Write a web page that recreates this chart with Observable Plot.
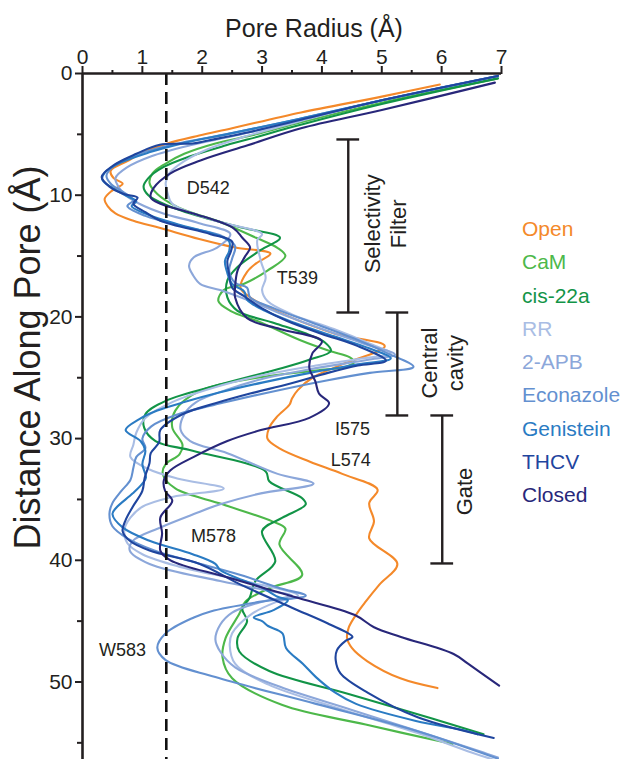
<!DOCTYPE html>
<html><head><meta charset="utf-8">
<script src="https://cdn.jsdelivr.net/npm/d3@7"></script>
<script src="https://cdn.jsdelivr.net/npm/@observablehq/plot@0.6"></script>
<style>
body{margin:0;background:#fff;}
#wrap{position:relative;width:632px;height:759px;font-family:"Liberation Sans",Arial,sans-serif;overflow:hidden;}
#legend{position:absolute;left:522px;top:212px;font-size:21px;line-height:33.3px;white-space:nowrap;}
</style></head><body>
<div id="wrap"><div id="chart"></div><div id="legend"></div></div>
<script>
// ---- data: [distance along pore (Å), pore radius (Å)] ----
const seriesNames = ["Open","CaM","cis-22a","RR","2-APB","Econazole","Genistein","THCV","Closed"];
const seriesColors = ["#F4892A","#4DB84A","#129447","#A9BDE4","#8CA7DA","#6390D0","#2A7BC3","#1F459E","#28277A"];

const openProfile = [[0.9,5.97],[1.9,5.0],[3.2,3.65],[4.5,2.5],[5.1,1.95],[5.75,1.42],[6.5,1.0],[7.2,0.75],[8.0,0.47],[8.6,0.52],[9.05,0.67],[9.6,0.5],[10.3,0.37],[10.9,0.42],[11.5,0.55],[12.1,0.85],[12.7,1.3],[13.6,1.95],[14.3,2.55],[14.8,3.14],[15.6,2.9],[16.3,2.75],[17.6,2.64],[18.4,2.8],[18.7,2.9],[20.0,3.46],[21.4,4.23],[22.4,5.05],[23.9,4.34],[25.0,3.84],[26.0,3.6],[26.7,3.5],[27.2,3.46],[28.2,3.25],[29.1,3.12],[30.0,3.09],[30.8,3.29],[31.9,3.8],[32.9,4.34],[34.2,4.93],[35.3,4.79],[36.8,4.87],[38.2,4.79],[40.3,5.26],[42.0,4.96],[43.4,4.73],[44.4,4.58],[45.5,4.45],[46.4,4.42],[47.2,4.5],[48.3,4.76],[49.7,5.31],[50.5,5.93]];

const camProfile = [[0.4,6.94],[2.4,5.0],[4.0,3.65],[5.0,2.9],[5.75,2.22],[6.6,1.7],[7.4,1.39],[8.2,1.17],[9.0,1.12],[9.9,1.25],[11.0,1.6],[12.3,2.35],[13.5,2.9],[14.3,3.25],[15.0,3.39],[16.2,3.09],[17.3,2.69],[17.8,2.36],[18.7,2.27],[19.5,2.47],[20.4,2.95],[21.9,3.63],[22.8,4.13],[23.3,4.46],[23.7,4.54],[24.1,4.4],[24.4,3.9],[25.1,2.79],[26.1,1.95],[27.7,1.55],[29.1,1.5],[30.5,1.67],[31.3,1.62],[32.1,1.39],[32.9,1.34],[34.1,1.55],[35.4,2.34],[36.8,3.17],[37.4,3.39],[38.7,3.29],[41.2,3.67],[42.3,3.12],[43.4,2.72],[44.4,2.62],[46.4,2.39],[48.0,2.34],[49.7,2.5],[51.9,3.34],[53.5,4.73],[55.1,6.18]];

const cis22aProfile = [[0.4,6.94],[2.5,5.0],[4.4,3.5],[5.1,3.0],[5.9,2.4],[6.8,1.8],[7.7,1.35],[8.6,1.1],[9.3,1.02],[10.0,1.1],[10.8,1.4],[11.8,2.0],[12.7,2.7],[13.5,3.3],[14.5,2.98],[15.9,2.59],[17.0,2.42],[18.4,2.42],[19.5,2.59],[20.5,3.2],[21.5,3.8],[22.1,4.05],[22.8,4.15],[23.5,3.8],[24.2,3.34],[25.5,2.34],[26.9,1.39],[28.0,1.05],[29.1,1.03],[30.2,1.22],[31.0,1.84],[32.7,3.06],[33.5,3.12],[34.9,3.67],[35.4,3.73],[36.5,3.34],[37.6,3.0],[40.1,3.22],[41.7,2.89],[43.1,2.79],[44.0,2.67],[45.0,2.75],[46.4,2.59],[47.5,2.62],[49.1,3.12],[51.0,4.46],[53.0,5.84],[54.3,6.7]];

const rrProfile = [[0.2,6.94],[2.2,5.0],[3.9,3.65],[5.2,2.7],[6.2,2.1],[7.2,1.7],[8.2,1.45],[9.0,1.39],[9.8,1.42],[10.7,1.5],[12.1,2.22],[13.2,3.0],[13.7,2.92],[15.4,2.98],[16.8,3.06],[17.8,3.0],[18.7,3.09],[19.8,3.5],[21.0,4.2],[22.2,4.8],[23.0,5.15],[23.4,4.7],[24.0,3.9],[24.8,3.0],[25.8,2.2],[27.0,1.5],[28.3,1.05],[29.5,0.9],[30.5,0.85],[31.5,0.8],[32.5,1.1],[33.3,1.6],[34.1,2.36],[34.8,1.5],[35.6,1.0],[36.5,0.8],[37.5,0.7],[38.6,0.75],[39.5,1.0],[40.5,1.6],[41.7,2.7],[42.9,3.6],[43.5,3.2],[44.5,2.8],[46.0,2.5],[47.0,2.46],[48.5,2.55],[50.2,3.1],[52.2,4.3],[54.2,5.6],[55.8,6.5],[56.5,6.94]];

const apbProfile = [[0.2,6.94],[2.2,5.0],[3.8,3.65],[5.1,2.55],[5.9,1.8],[6.8,1.15],[7.7,0.75],[8.6,0.55],[9.3,0.6],[10.0,0.72],[10.7,0.95],[11.5,1.35],[12.3,1.95],[13.2,2.47],[14.3,2.25],[15.1,1.86],[15.8,1.78],[16.6,1.85],[17.3,1.97],[17.8,2.3],[18.7,2.8],[19.8,3.35],[21.0,4.0],[22.2,4.7],[23.1,5.22],[23.5,4.8],[24.3,3.8],[25.1,3.0],[26.0,2.4],[27.0,1.9],[28.0,1.7],[29.3,1.64],[30.2,1.8],[31.2,2.42],[32.9,3.26],[33.7,3.86],[34.5,2.98],[35.4,2.3],[36.2,1.86],[37.3,1.3],[38.4,0.84],[39.2,0.79],[40.3,1.12],[41.7,2.3],[42.5,3.1],[42.9,3.5],[43.4,3.0],[44.3,2.5],[45.3,2.3],[46.5,2.22],[47.5,2.3],[48.8,2.55],[50.4,3.3],[52.3,4.5],[54.2,5.7],[55.8,6.7],[56.2,6.94]];

const econazoleProfile = [[0.2,6.94],[2.2,5.0],[3.7,3.65],[5.0,2.4],[5.8,1.55],[6.6,0.95],[7.5,0.55],[8.4,0.4],[9.1,0.48],[9.8,0.7],[10.4,0.85],[10.9,0.75],[11.7,1.05],[12.6,1.7],[13.4,2.35],[14.2,2.55],[15.2,2.5],[16.2,2.45],[17.2,2.55],[17.6,2.75],[18.4,2.8],[19.3,3.2],[20.5,3.85],[21.8,4.55],[23.0,5.1],[24.1,5.53],[24.6,4.8],[25.2,4.1],[26.0,3.3],[27.0,2.4],[28.0,1.6],[29.0,1.15],[30.0,1.0],[30.8,1.05],[31.5,0.9],[32.4,0.85],[33.4,0.8],[34.3,0.65],[35.3,0.5],[36.2,0.45],[37.2,0.5],[38.2,0.75],[39.2,1.2],[40.2,1.9],[41.3,2.7],[42.3,3.3],[42.9,3.73],[43.4,2.98],[44.2,2.14],[44.7,1.86],[46.0,1.39],[47.2,1.25],[48.2,1.39],[49.6,2.22],[51.8,3.9],[54.0,5.57],[56.3,6.94]];

const genisteinProfile = [[0.2,6.94],[2.2,5.0],[3.7,3.65],[4.9,2.5],[5.7,1.7],[6.5,1.1],[7.3,0.65],[8.1,0.38],[8.7,0.33],[9.4,0.5],[10.1,0.75],[10.5,0.9],[10.9,0.82],[11.6,1.1],[12.4,1.6],[13.2,2.2],[13.8,2.45],[14.6,2.45],[15.4,2.38],[16.4,2.42],[17.3,2.5],[17.9,2.7],[18.6,2.75],[19.5,3.05],[20.5,3.55],[21.6,4.2],[22.6,4.8],[23.4,5.15],[23.9,4.6],[24.6,3.8],[25.4,3.0],[26.2,2.3],[27.0,1.7],[27.7,1.25],[28.4,0.95],[29.3,0.72],[30.2,0.97],[31.0,1.05],[32.1,1.0],[33.2,1.06],[33.7,1.0],[34.5,0.84],[35.7,0.56],[36.2,0.5],[37.3,0.67],[38.4,1.12],[39.5,1.84],[40.3,2.22],[40.8,2.3],[41.5,2.6],[42.2,2.98],[43.0,3.26],[43.3,3.43],[44.1,3.19],[44.7,2.86],[45.0,3.0],[45.4,3.1],[46.0,3.34],[47.2,3.4],[48.5,3.68],[49.6,3.9],[50.9,4.23],[51.8,4.57],[53.2,5.57],[54.0,6.4],[54.3,6.6]];

const thcvProfile = [[0.2,6.94],[2.2,5.0],[3.8,3.65],[4.8,2.8],[5.5,2.1],[5.75,1.84],[5.85,1.29],[6.6,0.9],[7.6,0.5],[8.5,0.32],[9.3,0.45],[9.9,0.69],[10.2,0.92],[10.7,0.85],[11.4,1.05],[12.1,1.3],[13.2,2.14],[13.8,2.5],[14.6,2.48],[15.4,2.42],[16.5,2.45],[17.6,2.5],[18.3,2.7],[19.3,3.0],[20.3,3.4],[21.4,4.0],[22.4,4.6],[23.6,5.07],[24.0,4.6],[24.6,4.1],[25.5,3.46],[26.3,2.8],[27.1,2.22],[28.0,1.67],[29.3,1.3],[30.3,1.28],[31.2,1.14],[32.0,1.12],[33.2,1.04],[34.3,1.0],[35.6,0.84],[36.7,0.72],[37.6,0.67],[38.4,0.79],[39.2,1.12],[40.3,1.96],[41.9,2.6],[43.9,3.5],[45.2,4.1],[46.3,4.51],[46.6,4.4],[47.4,4.25],[48.2,4.23],[49.3,4.31],[50.9,4.77],[52.9,5.6],[54.6,6.87]];

const closedProfile = [[0.75,6.89],[3.0,5.0],[4.5,3.65],[5.9,2.76],[7.15,1.97],[8.2,1.47],[9.4,1.19],[10.2,1.14],[10.7,1.3],[11.5,1.85],[12.7,2.52],[13.5,2.67],[14.3,2.8],[15.0,2.72],[16.2,2.59],[17.5,2.55],[18.4,2.55],[20.1,2.75],[21.0,3.3],[22.0,4.0],[23.0,3.84],[24.2,3.79],[25.3,3.89],[26.3,3.95],[27.1,4.12],[28.3,3.79],[29.3,2.98],[30.2,2.42],[31.5,1.86],[32.6,1.47],[33.4,1.36],[34.3,1.38],[35.1,1.5],[36.5,1.3],[37.8,1.33],[39.2,1.3],[40.0,1.47],[41.4,2.42],[43.0,3.53],[44.5,4.55],[45.5,4.87],[46.3,5.32],[47.7,6.2],[48.5,6.44],[50.3,6.96]];

const profiles = [openProfile,camProfile,cis22aProfile,rrProfile,apbProfile,econazoleProfile,genisteinProfile,thcvProfile,closedProfile];

// axis ticks
const majorX = [0,1,2,3,4,5,6,7];
const minorX = [0.5,1.5,2.5,3.5,4.5,5.5,6.5];
const majorY = [0,10,20,30,40,50];
const minorY = [5,15,25,35,45,55];
const waterRadius = 1.4;

// annotations
const residueNames = ["D542","T539","I575","L574","M578","W583"];
const residueR = [2.1,3.59,4.51,4.48,2.19,0.67];
const residueD = [9.45,16.85,29.2,31.8,38.0,47.4];

const regionNames = ["Selectivity\nFilter","Central\ncavity","Gate"];
const regionX = [4.44,5.26,6.01];
const regionTop = [5.42,19.64,28.1];
const regionBottom = [19.64,28.1,40.26];
const regionLabelX = [5.05,6.0,6.36];
const regionLabelD = [12.35,23.8,34.35];

// ---- build ----
const rows = [];
profiles.forEach((p,i) => p.forEach(([d,r]) => rows.push({series: seriesNames[i], d, r})));
const residues = residueNames.map((n,i) => ({n, r: residueR[i], d: residueD[i]}));
const regions = regionNames.map((n,i) => ({n, x: regionX[i], top: regionTop[i], bottom: regionBottom[i], lx: regionLabelX[i], ld: regionLabelD[i]}));
const cap = 0.19;
const ink = "#231f20";

const lineMarks = seriesNames.map((s,i) =>
  Plot.line(rows.filter(d => d.series === s), {x: "r", y: "d", stroke: seriesColors[i], strokeWidth: 2.1, curve: "catmull-rom", clip: true})
);

const chart = Plot.plot({
  width: 632, height: 759,
  marginTop: 73, marginLeft: 82, marginRight: 131, marginBottom: 0,
  x: {domain: [0, 7]},
  y: {domain: [0, 56.37], reverse: true},
  style: {fontFamily: "Liberation Sans, Arial, sans-serif", background: "white", color: ink, overflow: "visible"},
  marks: [
    ...lineMarks,
    Plot.ruleX([waterRadius], {stroke: "#111", strokeWidth: 2.6, strokeDasharray: "12,7"}),
    Plot.axisX({anchor: "top", ticks: majorX, tickSize: 8, tickPadding: 2, fontSize: 21, label: null, strokeWidth: 2, tickFormat: d => d}),
    Plot.axisX({anchor: "top", ticks: minorX, tickSize: 4, label: null, strokeWidth: 2, tickFormat: () => ""}),
    Plot.axisY({anchor: "left", ticks: majorY, tickSize: 7, tickPadding: 3, fontSize: 21, label: null, strokeWidth: 2, tickFormat: d => d}),
    Plot.axisY({anchor: "left", ticks: minorY, tickSize: 5, label: null, strokeWidth: 2, tickFormat: () => ""}),
    Plot.ruleY([0], {stroke: ink, strokeWidth: 2.6}),
    Plot.ruleX([0], {stroke: ink, strokeWidth: 2.6}),
    Plot.text(["Pore Radius (Å)"], {frameAnchor: "top", dx: 22, dy: -54, fontSize: 25, fill: ink}),
    Plot.text(["Distance Along Pore (Å)"], {frameAnchor: "left", textAnchor: "middle", dx: -54, dy: -59, rotate: -90, fontSize: 36, fill: ink}),
    Plot.text(residues, {x: "r", y: "d", text: "n", fontSize: 18, fill: ink}),
    Plot.ruleX(regions, {x: "x", y1: "top", y2: "bottom", stroke: ink, strokeWidth: 2.4}),
    Plot.ruleY(regions, {y: "top", x1: d => d.x - cap, x2: d => d.x + cap, stroke: ink, strokeWidth: 2.4}),
    Plot.ruleY(regions, {y: "bottom", x1: d => d.x - cap, x2: d => d.x + cap, stroke: ink, strokeWidth: 2.4}),
    Plot.text(regions, {x: "lx", y: "ld", text: "n", rotate: -90, fontSize: 22, lineHeight: 1.2, fill: ink})
  ]
});
document.getElementById("chart").appendChild(chart);

const legend = document.getElementById("legend");
seriesNames.forEach((s,i) => {
  const div = document.createElement("div");
  div.textContent = s;
  div.style.color = seriesColors[i];
  legend.appendChild(div);
});
</script>
</body></html>
